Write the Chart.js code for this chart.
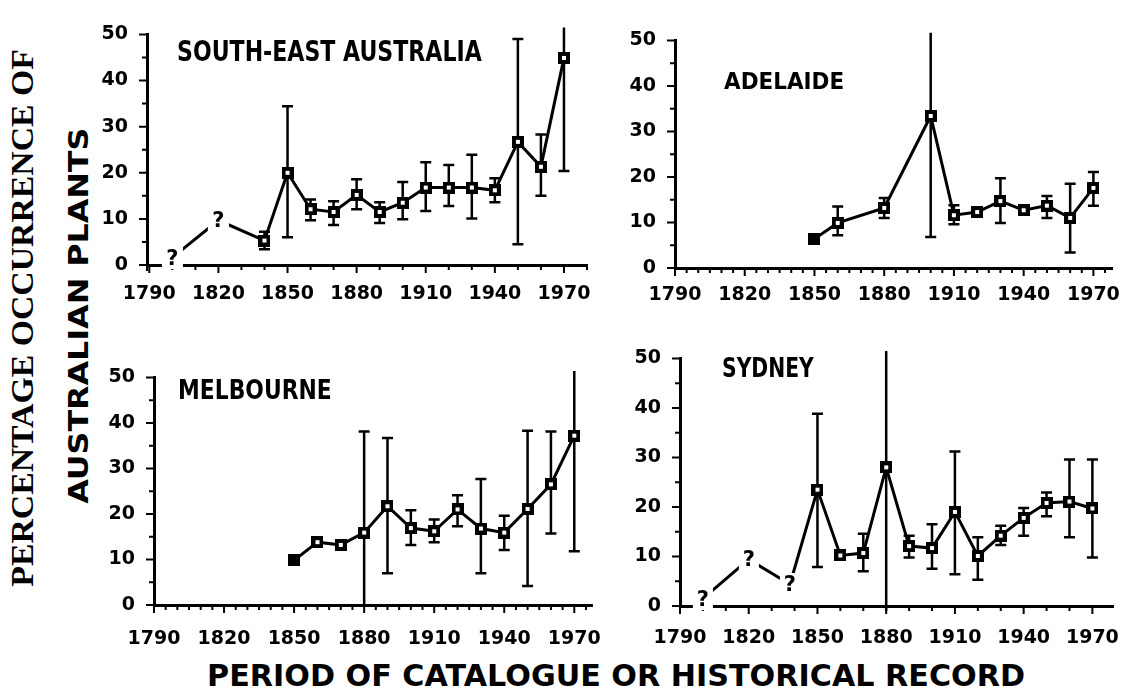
<!DOCTYPE html>
<html>
<head>
<meta charset="utf-8">
<script src="https://cdn.jsdelivr.net/npm/chart.js@4.4.0/dist/chart.umd.min.js"></script>
<style>
  html, body { margin: 0; padding: 0; background: #fff; }
  #wrap { position: relative; width: 1129px; height: 697px; overflow: hidden; background: #fff; }
  canvas { position: absolute; }
  .lbl { position: absolute; font-family: "DejaVu Sans", sans-serif; font-weight: bold; color: #000;
         white-space: nowrap; line-height: 1; transform-origin: 0 0; }
  .vert { position: absolute; font-weight: bold; color: #000; white-space: nowrap; line-height: 1;
          transform-origin: 50% 50%; }
  .q { position: absolute; background: #fff; color: #000; font-family: "DejaVu Sans", sans-serif;
       font-weight: bold; font-size: 21px; line-height: 22px; padding: 0 4px; transform: translate(-50%, -50%); }
</style>
</head>
<body>
<div id="wrap">
  <div class="lbl" id="t-se">SOUTH-EAST AUSTRALIA</div>
  <div class="lbl" id="t-ad">ADELAIDE</div>
  <div class="lbl" id="t-me">MELBOURNE</div>
  <div class="lbl" id="t-sy">SYDNEY</div>
  <div class="vert" id="ytitle1" style="font-family:'Liberation Serif', 'DejaVu Serif', serif;">PERCENTAGE OCCURRENCE OF</div>
  <div class="vert" id="ytitle2" style="font-family:'DejaVu Sans', sans-serif;">AUSTRALIAN PLANTS</div>
  <div class="lbl" id="xtitle">PERIOD OF CATALOGUE OR HISTORICAL RECORD</div>
</div>
<script>
// ejes comunes
const xTicks = [1790, 1820, 1850, 1880, 1910, 1940, 1970];
const yTicks = [0, 10, 20, 30, 40, 50];

// South-East Australia
const seYears  = [1840, 1850, 1860, 1870, 1880, 1890, 1900, 1910, 1920, 1930, 1940, 1950, 1960, 1970];
const seValues = [5.3, 20, 12.1, 11.5, 15.2, 11.5, 13.5, 16.8, 16.8, 16.8, 16.2, 26.7, 21.3, 44.9];
const seLow    = [3.4, 6, 9.7, 8.7, 12.1, 9.1, 9.9, 11.7, 12.8, 10.1, 13.6, 4.5, 15, 20.4];
const seHigh   = [7.2, 34.4, 14.2, 13.8, 18.6, 13.6, 18, 22.3, 21.7, 23.9, 18.8, 49, 28.3, 51.5];
const seQYears  = [1800, 1820, 1840];
const seQValues = [1.6, 9.7, 5.3];

// Adelaide
const adYears  = [1850, 1860, 1880, 1900, 1910, 1920, 1930, 1940, 1950, 1960, 1970];
const adValues = [6.4, 9.9, 13.2, 33.4, 11.6, 12.3, 14.7, 12.7, 13.7, 11, 17.6];
const adLow    = [null, 7.2, 11, 6.8, 9.6, null, 9.9, null, 11, 3.4, 13.7];
const adHigh   = [null, 13.5, 15.4, 51.7, 13.8, null, 19.7, null, 15.8, 18.5, 21.1];

// Melbourne
const meYears  = [1850, 1860, 1870, 1880, 1890, 1900, 1910, 1920, 1930, 1940, 1950, 1960, 1970];
const meValues = [9.8, 13.8, 13.2, 15.9, 21.7, 16.9, 16.2, 21, 16.8, 15.9, 21.1, 26.5, 37.2];
const meLow    = [null, null, null, 0, 7, 13.2, 13.8, 17.3, 7, 12.1, 4.2, 15.7, 11.8];
const meHigh   = [null, null, null, 38.1, 36.7, 20.8, 18.8, 24.1, 27.7, 19.6, 38.3, 38.1, 51.4];

// Sydney
const syYears  = [1850, 1860, 1870, 1880, 1890, 1900, 1910, 1920, 1930, 1940, 1950, 1960, 1970];
const syValues = [23.5, 10.2, 10.7, 28, 12.1, 11.7, 19, 10.1, 14.2, 17.8, 20.8, 21.1, 19.7];
const syLow    = [7.9, null, 7, -1, 9.8, 7.5, 6.4, 5.3, 12.3, 14.2, 18.1, 13.9, 9.8];
const syHigh   = [38.8, null, 14.6, 51.5, 14.2, 16.5, 31.2, 13.9, 16.2, 19.8, 22.9, 29.6, 29.6];
const syQYears  = [1800, 1820, 1838, 1850];
const syQValues = [1.5, 9.4, 4.4, 23.5];

// paneles: caja del área de dibujo [izq, arriba, der, abajo] en px
const panels = [
  { box: [147, 19, 587, 265], xMin: 1789, xMax: 1980, minor: 10, labelPad: 18, years: seYears, values: seValues,
    low: seLow, high: seHigh, qYears: seQYears, qValues: seQValues, qMarks: 2, filledFirst: false },
  { box: [675, 25, 1112, 268], xMin: 1790, xMax: 1978, minor: 5, labelPad: 16, years: adYears, values: adValues,
    low: adLow, high: adHigh, qYears: [], qValues: [], qMarks: 0, filledFirst: true },
  { box: [154, 362, 595, 605], xMin: 1790, xMax: 1978, minor: 5, labelPad: 23, years: meYears, values: meValues,
    low: meLow, high: meHigh, qYears: [], qValues: [], qMarks: 0, filledFirst: true },
  { box: [680, 343, 1113, 606], xMin: 1790, xMax: 1979, minor: 10, labelPad: 21, years: syYears, values: syValues,
    low: syLow, high: syHigh, qYears: syQYears, qValues: syQValues, qMarks: 3, filledFirst: false }
];

const Y_W = 60, X_H = 50, PAD_T = 15, PAD_R = 30;
const wrap = document.getElementById('wrap');

// marcadores cuadrados
function makeMarker(filled) {
  const c = document.createElement('canvas');
  c.width = 12; c.height = 12;
  const g = c.getContext('2d');
  g.fillStyle = '#000';
  g.fillRect(0, 0, 12, 12);
  if (!filled) {
    g.fillStyle = '#fff';
    g.fillRect(4, 4, 4, 4);
  }
  return c;
}
const hollowMarker = makeMarker(false);
const filledMarker = makeMarker(true);

// barras de error (debajo de la línea)
const errorBars = {
  id: 'errorBars',
  beforeDatasetsDraw(chart) {
    const p = chart.options.plugins.errorBars;
    const { ctx, scales: { x, y } } = chart;
    ctx.save();
    ctx.strokeStyle = '#000';
    ctx.lineWidth = 2.5;
    p.years.forEach((yr, i) => {
      const lo = p.low[i], hi = p.high[i];
      if (lo == null || hi == null) return;
      const px = x.getPixelForValue(yr);
      const pTop = y.getPixelForValue(hi);
      const pBot = y.getPixelForValue(lo);
      ctx.beginPath();
      ctx.moveTo(px, pTop);
      ctx.lineTo(px, pBot);
      if (hi <= 50) { ctx.moveTo(px - 5.5, pTop); ctx.lineTo(px + 5.5, pTop); }
      if (lo > 0) { ctx.moveTo(px - 5.5, pBot); ctx.lineTo(px + 5.5, pBot); }
      ctx.stroke();
    });
    ctx.restore();
  }
};

// marcas de los ejes (mayores y menores)
const axisMarks = {
  id: 'axisMarks',
  afterDraw(chart) {
    const p = chart.options.plugins.axisMarks;
    const { ctx, chartArea: a, scales: { x, y } } = chart;
    ctx.save();
    ctx.strokeStyle = '#000';
    ctx.lineWidth = 2;
    ctx.beginPath();
    for (let v = 1790; v <= x.max; v += p.minor) {
      const px = x.getPixelForValue(v);
      const len = xTicks.includes(v) ? 8 : 5;
      ctx.moveTo(px, a.bottom);
      ctx.lineTo(px, a.bottom + len);
    }
    for (let v = 0; v <= 50; v += 5) {
      const py = y.getPixelForValue(v);
      const len = yTicks.includes(v) ? 8 : 5;
      ctx.moveTo(a.left, py);
      ctx.lineTo(a.left - len, py);
    }
    ctx.moveTo(a.left, a.bottom);
    ctx.lineTo(a.left, a.bottom + 6);
    ctx.stroke();
    ctx.restore();
  }
};

const tickFont = { family: 'DejaVu Sans', weight: 'bold', size: 19 };

panels.forEach(pn => {
  const [l, t, r, b] = pn.box;
  const cv = document.createElement('canvas');
  const cw = r - l + Y_W + PAD_R;
  const ch = b - t + PAD_T + X_H;
  cv.width = cw; cv.height = ch;
  cv.style.left = (l - Y_W) + 'px';
  cv.style.top = (t - PAD_T) + 'px';
  cv.style.width = cw + 'px';
  cv.style.height = ch + 'px';
  wrap.appendChild(cv);

  const main = pn.years.map((yr, i) => ({ x: yr, y: pn.values[i] }));
  const quest = pn.qYears.map((yr, i) => ({ x: yr, y: pn.qValues[i] }));

  const chart = new Chart(cv.getContext('2d'), {
    type: 'line',
    data: {
      datasets: [
        {
          data: main,
          borderColor: '#000',
          borderWidth: 3,
          tension: 0,
          pointStyle: (c) => (pn.filledFirst && c.dataIndex === 0) ? filledMarker : hollowMarker,
          pointRadius: 6,
          clip: false
        },
        {
          data: quest,
          borderColor: '#000',
          borderWidth: 3,
          tension: 0,
          pointRadius: 0,
          clip: false
        }
      ]
    },
    options: {
      responsive: false,
      animation: false,
      devicePixelRatio: 1,
      layout: { padding: { top: PAD_T, right: PAD_R, left: 0, bottom: 0 } },
      scales: {
        x: {
          type: 'linear',
          min: pn.xMin,
          max: pn.xMax,
          afterBuildTicks: (s) => { s.ticks = xTicks.map(v => ({ value: v })); },
          afterFit: (s) => { s.height = X_H; },
          grid: { display: false, drawTicks: false },
          border: { display: true, color: '#000', width: 3 },
          ticks: { color: '#000', font: tickFont, padding: pn.labelPad, maxRotation: 0, autoSkip: false,
                   callback: (v) => String(v) }
        },
        y: {
          min: 0,
          max: 50,
          afterBuildTicks: (s) => { s.ticks = yTicks.map(v => ({ value: v })); },
          afterFit: (s) => { s.width = Y_W; },
          grid: { display: false, drawTicks: false },
          border: { display: true, color: '#000', width: 3 },
          ticks: { color: '#000', font: tickFont, padding: 19, callback: (v) => String(v) }
        }
      },
      plugins: {
        legend: { display: false },
        tooltip: { enabled: false },
        errorBars: { years: pn.years, low: pn.low, high: pn.high },
        axisMarks: { minor: pn.minor }
      }
    },
    plugins: [errorBars, axisMarks]
  });

  // signos de interrogación sobre los puntos dudosos
  for (let i = 0; i < pn.qMarks; i++) {
    const q = document.createElement('div');
    q.className = 'q';
    q.textContent = '?';
    q.style.left = (l - Y_W + chart.scales.x.getPixelForValue(pn.qYears[i])) + 'px';
    q.style.top = (t - PAD_T + chart.scales.y.getPixelForValue(pn.qValues[i])) + 'px';
    wrap.appendChild(q);
  }
});

// textos
function placeText(id, left, capTop, capH, width) {
  const el = document.getElementById(id);
  const f = capH / 0.729;
  el.style.fontSize = f + 'px';
  el.style.left = left + 'px';
  el.style.top = (capTop - 0.117 * f) + 'px';
  el.style.transform = 'scaleX(' + (width / el.offsetWidth) + ')';
  el.style.zIndex = 5;
}
function placeVertical(id, cx, cy, capH, capRatio, length) {
  const el = document.getElementById(id);
  el.style.fontSize = (capH / capRatio) + 'px';
  const w = el.offsetWidth, h = el.offsetHeight;
  el.style.left = (cx - w / 2) + 'px';
  el.style.top = (cy - h / 2) + 'px';
  el.style.transform = 'rotate(-90deg) scaleX(' + (length / w) + ')';
}

placeText('t-se', 177, 40, 21, 305);
placeText('t-ad', 724, 72, 17, 120);
placeText('t-me', 178, 379, 20, 154);
placeText('t-sy', 722, 358, 19, 92);
placeText('xtitle', 207, 665, 22, 818);
placeVertical('ytitle1', 22.5, 318, 21, 0.66, 537);
placeVertical('ytitle2', 78, 315, 20, 0.729, 376);
</script>
</body>
</html>
